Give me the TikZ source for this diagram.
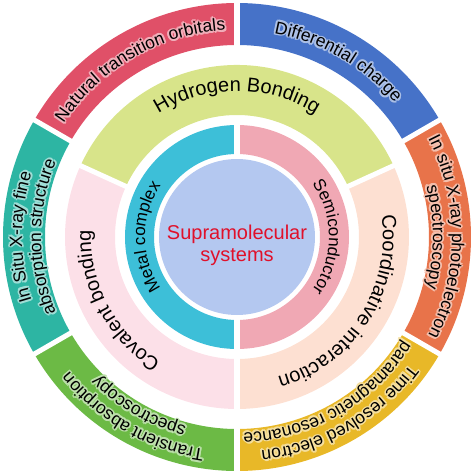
\documentclass[tikz,border=0pt]{standalone}
\usepackage{fontspec}
\setmainfont{Liberation Sans}
\usepackage{tikz}
\usetikzlibrary{decorations.text}

\definecolor{orbcol}{RGB}{224,80,104}
\definecolor{chgcol}{RGB}{70,114,200}
\definecolor{xpscol}{RGB}{232,115,74}
\definecolor{eprcol}{RGB}{232,184,40}
\definecolor{tascol}{RGB}{108,186,69}
\definecolor{xafcol}{RGB}{45,181,163}
\definecolor{hbcol}{RGB}{216,228,138}
\definecolor{covcol}{RGB}{252,224,232}
\definecolor{coocol}{RGB}{253,224,210}
\definecolor{metcol}{RGB}{61,191,216}
\definecolor{semcol}{RGB}{240,168,180}
\definecolor{corecol}{RGB}{180,200,240}
\definecolor{suptext}{RGB}{224,16,42}

\newcommand{\outfont}{\fontsize{17.5}{17.5}\selectfont}
\newcommand{\midfont}{\fontsize{20}{20}\selectfont}
\newcommand{\innfont}{\fontsize{17}{17}\selectfont}

% text on a clockwise arc: radius, from, to, text
\newcommand{\arclabel}[4]{%
  \path[decorate, decoration={text along path, text align=center, text={#4}}]
    (#2:#1pt) arc[start angle=#2, end angle=#3, radius=#1pt];}

% same, with a light halo round the letters (ring colour in #5)
\newcommand{\glowlabel}[5]{%
  \foreach \dr/\dd in {1.8/0, -1.8/0, 0/1.8, 0/-1.8, 1.3/1.3, 1.3/-1.3, -1.3/1.3, -1.3/-1.3}{
    \pgfmathsetmacro\rr{#1+\dr}
    \pgfmathsetmacro\da{\dd/#1*57.3}
    \path[decorate, decoration={text along path, text align=center,
        text color=white!55!#5, text={#4}}]
      ({#2-\da}:\rr pt) arc[start angle=#2-\da, end angle=#3-\da, radius=\rr pt];
  }
  \arclabel{#1}{#2}{#3}{#4}}

\tikzset{
  gap/.style={white, line width=5pt},
}

\begin{document}
\begin{tikzpicture}[x=1pt, y=1pt]
  \useasboundingbox (-237,-237) rectangle (237,237);

  % outer ring
  \foreach \a/\b/\c in {90/150/orbcol, 30/90/chgcol, -30/30/xpscol,
                        -90/-30/eprcol, -150/-90/tascol, 150/210/xafcol}
    \fill[\c] (\a:192pt) arc[start angle=\a, end angle=\b, radius=192pt]
      -- (\b:234pt) arc[start angle=\b, end angle=\a, radius=234pt] -- cycle;
  \foreach \a in {30,90,...,330}
    \draw[gap] (\a:188pt) -- (\a:238pt);

  % middle ring
  \foreach \a/\b/\c in {24.5/155.5/hbcol, 155.5/270/covcol, -90/24.5/coocol}
    \fill[\c] (\a:122pt) arc[start angle=\a, end angle=\b, radius=122pt]
      -- (\b:172pt) arc[start angle=\b, end angle=\a, radius=172pt] -- cycle;
  \foreach \a in {24.5,155.5,270}
    \draw[gap] (\a:118pt) -- (\a:176pt);

  % inner ring
  \foreach \a/\b/\c in {90/270/metcol, -90/90/semcol}
    \fill[\c] (\a:83pt) arc[start angle=\a, end angle=\b, radius=83pt]
      -- (\b:112pt) arc[start angle=\b, end angle=\a, radius=112pt] -- cycle;
  \foreach \a in {90,270}
    \draw[gap] (\a:80pt) -- (\a:115pt);

  \fill[corecol] (0,0) circle[radius=78pt];
  \node[text=suptext, align=center, font=\fontsize{20}{22}\selectfont] (core) at (0,-8) {Supramolecular\\systems};

  % labels
  \glowlabel{207}{150}{90}{|\outfont|Natural transition orbitals}{orbcol}
  \glowlabel{207}{90}{30}{|\outfont|Differential charge}{chgcol}
  \glowlabel{215}{30}{-30}{|\outfont|In situ X-ray photoelectron}{xpscol}
  \glowlabel{196}{30}{-30}{|\outfont|spectroscopy}{xpscol}
  \glowlabel{215}{-30}{-90}{|\outfont|Time resolved electron}{eprcol}
  \glowlabel{196}{-30}{-90}{|\outfont|paramagnetic resonance}{eprcol}
  \glowlabel{215}{-90}{-150}{|\outfont|Transient absorption}{tascol}
  \glowlabel{196}{-90}{-150}{|\outfont|spectroscopy}{tascol}
  \glowlabel{215}{210}{150}{|\outfont|In Situ X-ray fine}{xafcol}
  \glowlabel{196}{210}{150}{|\outfont|absorption structure}{xafcol}

  \arclabel{146}{155.5}{24.5}{|\midfont|Hydrogen Bonding}
  \arclabel{146}{24.5}{-90}{|\midfont|Coordinative interaction}
  \arclabel{146}{262}{154}{|\midfont|Covalent bonding}

  \arclabel{92}{270}{90}{|\innfont|Metal complex}
  \arclabel{92}{90}{-90}{|\innfont|Semiconductor}
\end{tikzpicture}
\end{document}
